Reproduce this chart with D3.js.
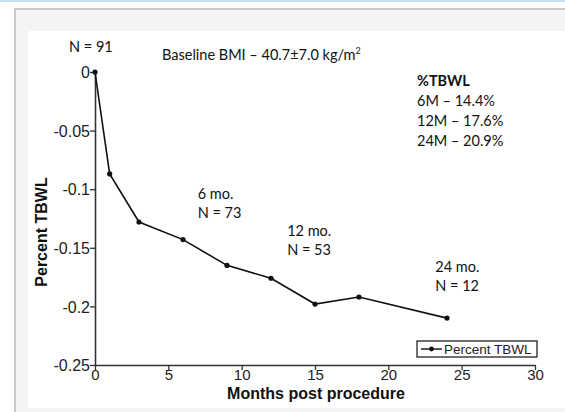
<!DOCTYPE html>
<html>
<head>
<meta charset="utf-8">
<script src="https://cdn.jsdelivr.net/npm/d3@7"></script>
<style>
  html, body { margin: 0; padding: 0; background: #fff; }
  svg { display: block; }
</style>
</head>
<body>
<svg id="chart" width="565" height="412"></svg>
<script>
// data
const months = [0, 1, 3, 6, 9, 12, 15, 18, 24];
const tbwl = [0, -0.087, -0.128, -0.143, -0.165, -0.176, -0.198, -0.192, -0.210];
const xTicks = [0, 5, 10, 15, 20, 25, 30];
const yTicks = [0, -0.05, -0.1, -0.15, -0.2, -0.25];
const yTickLabels = ["0", "-0.05", "-0.1", "-0.15", "-0.2", "-0.25"];
const summaryLines = ["6M \u2013 14.4%", "12M \u2013 17.6%", "24M \u2013 20.9%"];
const cohortNotes = [
  {x: 7, y: -0.108, lines: ["6 mo.", "N = 73"]},
  {x: 13.1, y: -0.140, lines: ["12 mo.", "N = 53"]},
  {x: 23.2, y: -0.171, lines: ["24 mo.", "N = 12"]}
];

const svg = d3.select("#chart");
const helv = "'Liberation Sans', Arial, sans-serif";
const cal = "Lato, 'Open Sans', sans-serif";

// page frame (screenshot of a slide)
svg.append("rect").attr("x", 0).attr("y", 0).attr("width", 565).attr("height", 412).attr("fill", "#fff");
svg.append("rect").attr("x", 0).attr("y", 0).attr("width", 565).attr("height", 2).attr("fill", "#c9e0f2");
svg.append("rect").attr("x", 15).attr("y", 9).attr("width", 560).attr("height", 410)
  .attr("fill", "#f4f4f4").attr("stroke", "#c8c8c8").attr("stroke-width", 2);
svg.append("rect").attr("x", 28).attr("y", 31).attr("width", 545).attr("height", 377).attr("fill", "#fff");

const x = d3.scaleLinear().domain([0, 30]).range([95, 535]);
const y = d3.scaleLinear().domain([-0.25, 0]).range([365, 72]);

// axes
const xAxis = svg.append("g").attr("transform", "translate(0,365)")
  .call(d3.axisBottom(x).tickValues(xTicks).tickSize(5).tickSizeOuter(0).tickPadding(1));
const yAxis = svg.append("g").attr("transform", "translate(95,0)")
  .call(d3.axisLeft(y).tickValues(yTicks).tickSize(5).tickSizeOuter(0).tickPadding(0)
    .tickFormat((d, i) => yTickLabels[i]));

[xAxis, yAxis].forEach(g => {
  g.select(".domain").attr("stroke", "#333").attr("stroke-width", 1.6);
  g.selectAll(".tick line").attr("stroke", "#333").attr("stroke-width", 1.3);
  g.selectAll(".tick text").attr("fill", "#222").style("font-family", helv).style("font-size", "16px");
});
xAxis.selectAll(".tick text").style("font-size", "15px").attr("dy", "0.6em");
yAxis.selectAll(".tick text").attr("dy", "0.36em");

// axis titles
svg.append("text").attr("x", 316).attr("y", 399).attr("text-anchor", "middle")
  .style("font-family", helv).style("font-weight", "bold").style("font-size", "16px").attr("fill", "#111")
  .text("Months post procedure");
svg.append("text").attr("transform", "translate(47,232) rotate(-90)").attr("text-anchor", "middle")
  .style("font-family", helv).style("font-weight", "bold").style("font-size", "16px").attr("fill", "#111")
  .text("Percent TBWL");

// line + markers
const pts = months.map((m, i) => [m, tbwl[i]]);
svg.append("path").datum(pts)
  .attr("fill", "none").attr("stroke", "#111").attr("stroke-width", 1.6)
  .attr("d", d3.line().x(d => x(d[0])).y(d => y(d[1])));
svg.selectAll("circle.pt").data(pts).enter().append("circle")
  .attr("class", "pt").attr("cx", d => x(d[0])).attr("cy", d => y(d[1])).attr("r", 2.6).attr("fill", "#111");

// legend
const lg = svg.append("g");
lg.append("rect").attr("x", 417).attr("y", 341).attr("width", 120).attr("height", 16)
  .attr("fill", "#fff").attr("stroke", "#222").attr("stroke-width", 1.3);
lg.append("line").attr("x1", 421).attr("x2", 442).attr("y1", 349).attr("y2", 349).attr("stroke", "#111").attr("stroke-width", 1.4);
lg.append("circle").attr("cx", 431.5).attr("cy", 349).attr("r", 2.4).attr("fill", "#111");
lg.append("text").attr("x", 444).attr("y", 354).style("font-family", helv).style("font-size", "13.5px").attr("fill", "#222")
  .text("Percent TBWL");

// annotations
const note = (tx, ty, s, w) => svg.append("text").attr("x", tx).attr("y", ty)
  .style("font-family", cal).style("font-size", "14.5px").style("font-weight", w || "normal").attr("fill", "#111").text(s);

note(69, 52, "N = 91");
const bmi = note(162, 60, "Baseline BMI \u2013 40.7\u00b17.0 kg/m");
bmi.append("tspan").attr("dy", -6).style("font-size", "9px").text("2");

note(417, 86, "%TBWL", "bold");
summaryLines.forEach((s, i) => note(417, 106 + i * 20, s));

cohortNotes.forEach(c => {
  c.lines.forEach((s, i) => note(x(c.x), y(c.y) + i * 19, s));
});
</script>
</body>
</html>
